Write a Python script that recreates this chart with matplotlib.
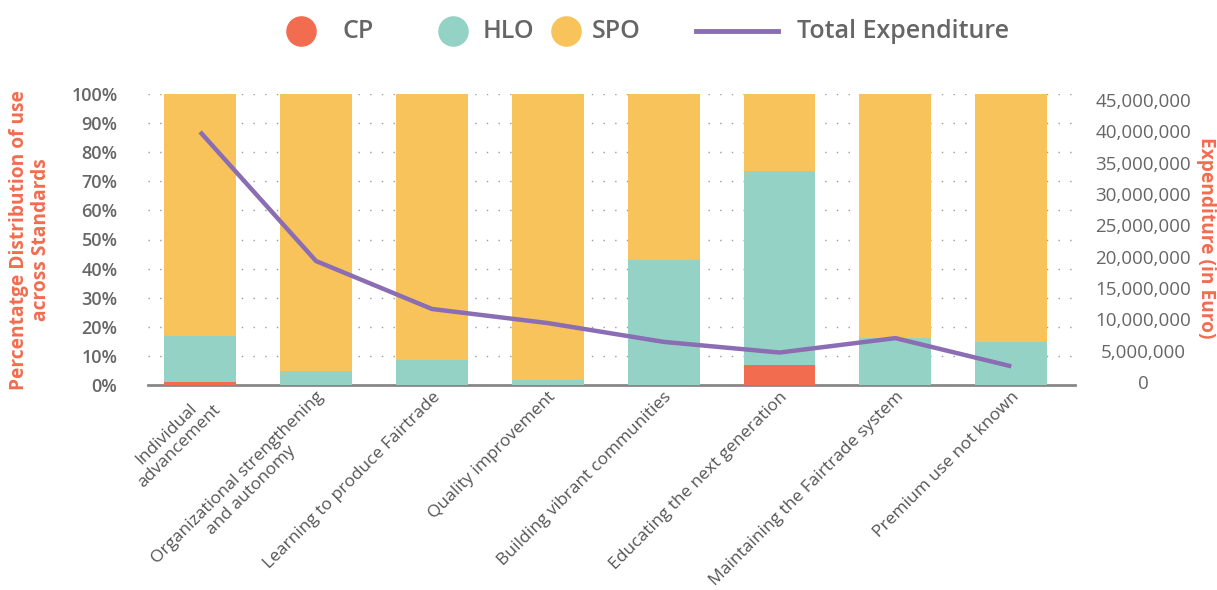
import matplotlib
matplotlib.use("Agg")
import matplotlib.pyplot as plt
from matplotlib.lines import Line2D
from matplotlib.ticker import FuncFormatter, MultipleLocator
import numpy as np

categories = [
    "Individual\nadvancement",
    "Organizational strengthening\nand autonomy",
    "Learning to produce Fairtrade",
    "Quality improvement",
    "Building vibrant communities",
    "Educating the next generation",
    "Maintaining the Fairtrade system",
    "Premium use not known",
]
cp = [1.0, 0.0, 0.0, 0.0, 0.0, 6.9, 0.0, 0.0]
hlo = [16.0, 4.8, 8.5, 1.7, 42.9, 66.6, 16.0, 14.7]
spo = [100 - c - h for c, h in zip(cp, hlo)]
total_expenditure = [39.9e6, 19.3e6, 11.65e6, 9.4e6, 6.4e6, 4.7e6, 7.0e6, 2.5e6]

C_CP = "#F26C4F"
C_HLO = "#94D2C6"
C_SPO = "#F7C35A"
C_LINE = "#8A6DB3"
C_TXT = "#666666"
C_AX = "#F26C4F"

plt.rcParams['font.family'] = ['Open Sans', 'DejaVu Sans']

W, H = 1217, 590
fig = plt.figure(figsize=(W / 100, H / 100), dpi=100)
ax = fig.add_axes([148 / W, 1 - 385 / H, (1075 - 148) / W, 291 / H])

x = np.arange(len(categories))
w = 0.62
ax.bar(x, cp, w, color=C_CP, zorder=2)
ax.bar(x, hlo, w, bottom=cp, color=C_HLO, zorder=2)
ax.bar(x, spo, w, bottom=[c + h for c, h in zip(cp, hlo)], color=C_SPO, zorder=2)

ax.set_ylim(0, 100)
ax.set_xlim(-0.45, len(categories) - 0.45)
ax.yaxis.set_major_locator(MultipleLocator(10))
ax.yaxis.set_major_formatter(FuncFormatter(lambda v, p: f"{v:.0f}%"))
for v in range(10, 101, 10):
    ax.axhline(v, color="#999999", lw=1.0, ls=(0, (1, 7.4)), zorder=1)
for s in ["top", "right", "left"]:
    ax.spines[s].set_visible(False)
ax.spines["bottom"].set_color("#888888")
ax.spines["bottom"].set_linewidth(2)
ax.spines["bottom"].set_zorder(1.5)
ax.tick_params(axis="y", length=0, pad=22, labelsize=13, labelcolor=C_TXT)
ax.tick_params(axis="x", length=0, pad=3)
for lab in ax.get_yticklabels():
    lab.set_fontweight("semibold")
ax.set_xticks(x)
ax.set_xticklabels(categories, rotation=45, ha="right", va="top",
                   rotation_mode="anchor", fontsize=12.5, color="#555555",
                   multialignment="center", linespacing=1.15)
fig.text(30 / W, 1 - 240 / H, "Percentatge Distribution of use\nacross Standards",
         color=C_AX, fontsize=13.8, fontweight="bold", rotation=90,
         ha="center", va="center", multialignment="center", linespacing=1.1)

ax2 = ax.twinx()
ax2.plot(x, total_expenditure, color=C_LINE, lw=3.2, zorder=5,
         solid_capstyle="butt")
ax2.set_ylim(-0.48e6, 45.95e6)
ax2.yaxis.set_major_locator(MultipleLocator(5e6))
ax2.yaxis.set_major_formatter(FuncFormatter(lambda v, p: f"{v:,.0f}"))
for s in ["top", "right", "left", "bottom"]:
    ax2.spines[s].set_visible(False)
ax2.tick_params(axis="y", length=0, labelsize=13.5, labelcolor=C_TXT)
for lab in ax2.get_yticklabels():
    lab.set_horizontalalignment("center")
ax2.tick_params(axis="y", pad=49)
fig.text(1206 / W, 1 - 238 / H, "Expenditure (in Euro)", color=C_AX,
         fontsize=13.8, fontweight="bold", rotation=270,
         ha="center", va="center")

# legend (manual placement to match reference spacing)
ly = 1 - 31 / H
for cx, col in [(301, C_CP), (453, C_HLO), (566, C_SPO)]:
    fig.add_artist(Line2D([cx / W], [ly], marker="o", ls="", ms=21,
                          color=col, transform=fig.transFigure))
fig.add_artist(Line2D([696 / W, 778 / W], [ly, ly], color=C_LINE, lw=3.5,
                      transform=fig.transFigure))
for tx, lbl in [(342, "CP"), (483, "HLO"), (592, "SPO"), (797, "Total Expenditure")]:
    fig.text(tx / W, ly, lbl, fontsize=18, color=C_TXT, fontweight="semibold",
             ha="left", va="center")

fig.savefig("out.png", dpi=100)
